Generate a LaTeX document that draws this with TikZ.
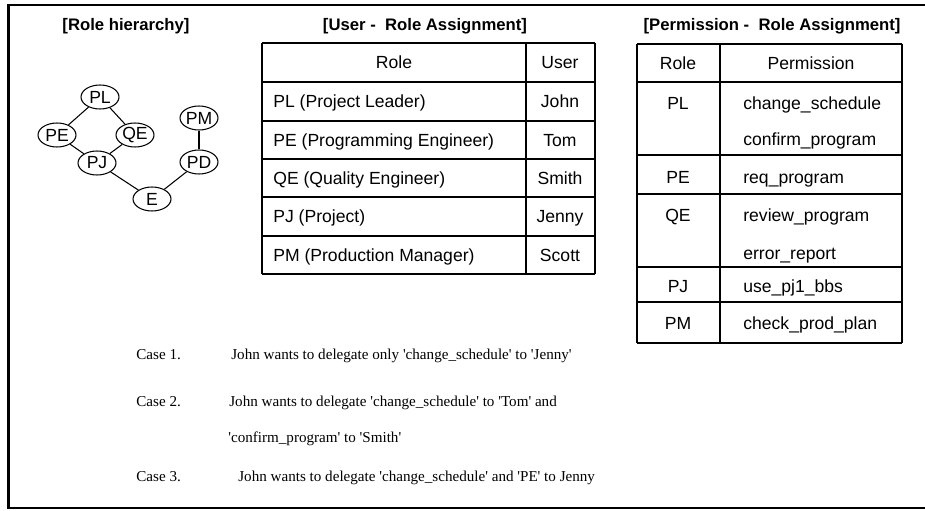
\documentclass[tikz,border=0pt]{standalone}
\usepackage{fontspec}
\setmainfont{Liberation Serif}
\setsansfont{Liberation Sans}
\usetikzlibrary{shapes.geometric, positioning}
\newcommand{\apice}[1]{\textquotesingle#1\textquotesingle}

\begin{document}
\begin{tikzpicture}[x = 0.02cm, y = -0.02cm,
    ruolo/.style = {draw, ellipse, line width = 0.6pt, minimum width = 0.76cm, minimum height = 0.48cm, inner sep = 0pt, font = \sffamily\fontsize{10}{12}\selectfont},
    titolo/.style = {inner sep = 0pt, text height = 6.8pt, text depth = 0pt, font = \sffamily\bfseries\fontsize{9.5}{11}\selectfont},
    cella/.style = {inner sep = 0pt, text height = 7.2pt, text depth = 0pt, font = \sffamily\fontsize{10}{12}\selectfont},
    caso/.style = {anchor = west, inner sep = 0pt, text height = 5.5pt, text depth = 0pt, font = \fontsize{8.6}{10}\selectfont},
    linea/.style = {line width = 0.7pt}]
    % Parametri
    \pgfmathsetmacro{\uxa}{262}
    \pgfmathsetmacro{\uxb}{526}
    \pgfmathsetmacro{\uxc}{595}
    \pgfmathsetmacro{\pxa}{637}
    \pgfmathsetmacro{\pxb}{720}
    \pgfmathsetmacro{\pxc}{902}
    \useasboundingbox (0,0) rectangle (925,510);
    % Cornice
    \draw[line width = 1.2pt] (925,5) -- (8.5,5) -- (8.5,508) -- (925,508);
    % Titoli
    \node[titolo] (tgerarchia) at (126,25) {[Role hierarchy]};
    \node[titolo] (tutenti) at (425,25) {[User -~~Role Assignment]};
    \node[titolo] (tpermessi) at (772,25) {[Permission -~~Role Assignment]};
    % Gerarchia dei ruoli
    \node[ruolo] (pl) at (100,97) {PL};
    \node[ruolo] (pe) at (57,135) {PE};
    \node[ruolo] (qe) at (135,135) {QE};
    \node[ruolo] (pj) at (97,163) {PJ};
    \node[ruolo] (e) at (152,199) {E};
    \node[ruolo] (pd) at (199,162) {PD};
    \node[ruolo] (pm) at (199,118) {PM};
    \draw[line width = 0.6pt] (pl) -- (pe);
    \draw[line width = 0.6pt] (pl) -- (qe);
    \draw[line width = 0.6pt] (pe) -- (pj);
    \draw[line width = 0.6pt] (qe) -- (pj);
    \draw[line width = 0.6pt] (pj) -- (e);
    \draw[line width = 0.6pt] (e) -- (pd);
    \draw[line width = 0.6pt] (pd) -- (pm);
    % Tabella utenti
    \foreach \y in {43, 82, 121, 159, 197, 236, 274}
        \draw[linea] (\uxa,\y) -- (\uxc,\y);
    \foreach \x in {\uxa, \uxb, \uxc}
        \draw[linea] (\x,43) -- (\x,274);
    \node[cella] (urole) at (394,62) {Role};
    \node[cella] (uuser) at (560,62) {User};
    \foreach [count = \i] \y/\r/\u in {101/PL (Project Leader)/John, 140/PE (Programming Engineer)/Tom, 178/QE (Quality Engineer)/Smith, 216/PJ (Project)/Jenny, 255/PM (Production Manager)/Scott} {
        \node[cella, anchor = west] (ur\i) at (273,\y) {\r};
        \node[cella] (uu\i) at (560,\y) {\u};
    }
    % Tabella permessi
    \foreach \y in {44, 82, 155, 194, 267, 302, 343}
        \draw[linea] (\pxa,\y) -- (\pxc,\y);
    \foreach \x in {\pxa, \pxb, \pxc}
        \draw[linea] (\x,44) -- (\x,343);
    \node[cella] (prole) at (678,63) {Role};
    \node[cella] (pperm) at (811,63) {Permission};
    \foreach [count = \i] \y/\r in {103/PL, 177/PE, 215/QE, 286/PJ, 323/PM}
        \node[cella] (pr\i) at (678,\y) {\r};
    \foreach [count = \i] \y/\p in {103/change\_schedule, 139/confirm\_program, 177/req\_program, 215/review\_program, 253/error\_report, 286/use\_pj1\_bbs, 323/check\_prod\_plan}
        \node[cella, anchor = west] (pp\i) at (743,\y) {\p};
    % Casi
    \node[caso] (caso1) at (136,355) {Case 1.};
    \node[caso] (testo1) at (231,355) {John wants to delegate only \apice{change\_schedule} to \apice{Jenny}};
    \node[caso] (caso2) at (136,402) {Case 2.};
    \node[caso] (testo2) at (229,402) {John wants to delegate \apice{change\_schedule} to \apice{Tom} and};
    \node[caso] (testo2b) at (228,438) {\apice{confirm\_program} to \apice{Smith}};
    \node[caso] (caso3) at (136,477) {Case 3.};
    \node[caso] (testo3) at (238,477) {John wants to delegate \apice{change\_schedule} and \apice{PE} to Jenny};
\end{tikzpicture}
\end{document}
